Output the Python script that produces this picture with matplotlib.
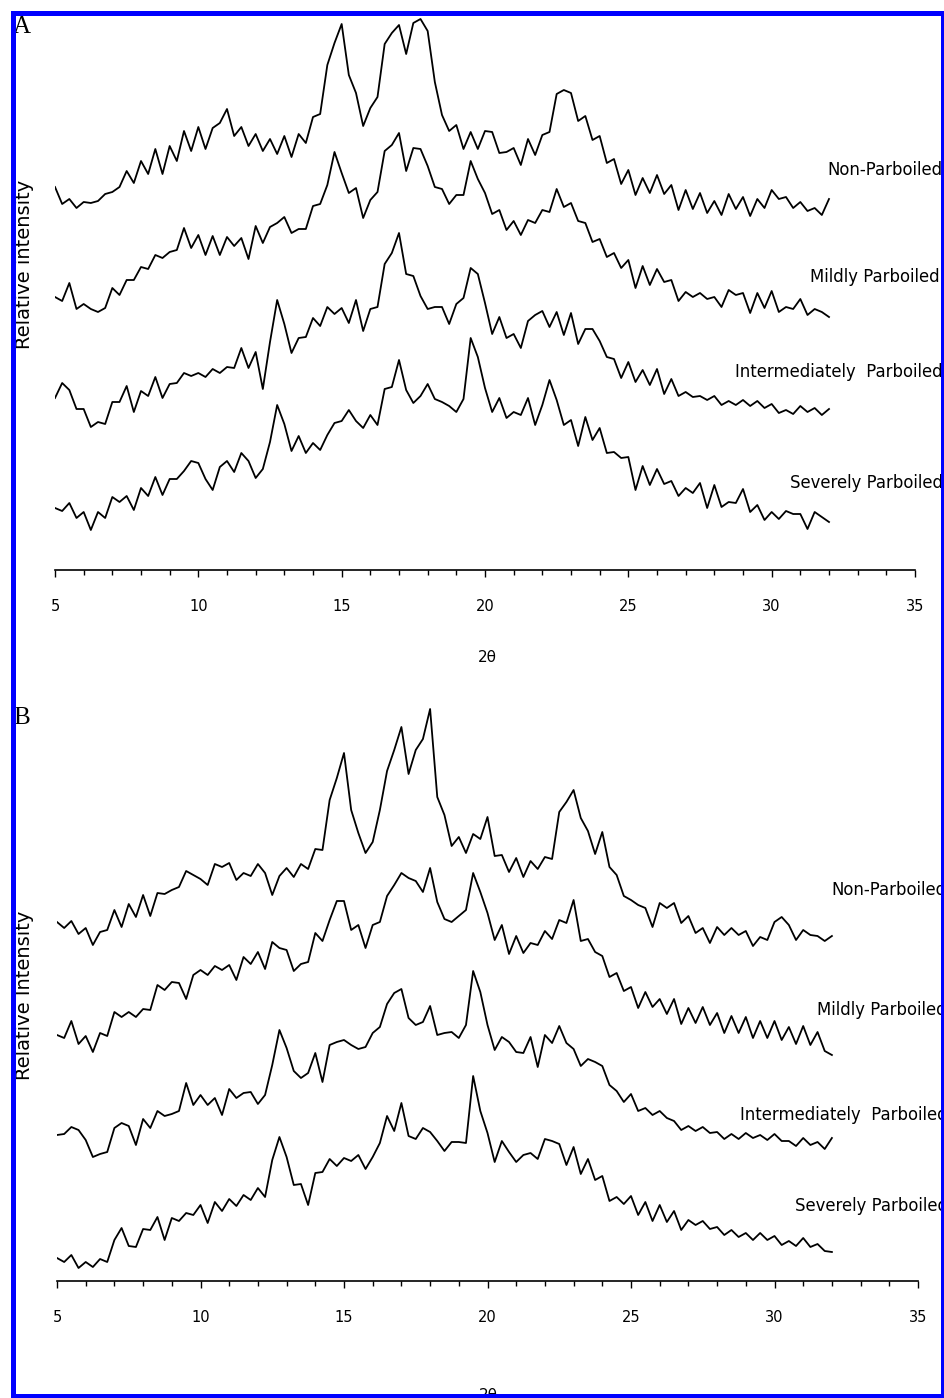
import matplotlib
matplotlib.use("Agg")
import matplotlib.pyplot as plt
from matplotlib.patches import Rectangle
from matplotlib.ticker import MultipleLocator

# 2-theta sampling (deg) shared by all traces
two_theta = [5.0, 5.25, 5.5, 5.75, 6.0, 6.25, 6.5, 6.75, 7.0, 7.25, 7.5, 7.75,
             8.0, 8.25, 8.5, 8.75, 9.0, 9.25, 9.5, 9.75, 10.0, 10.25, 10.5, 10.75,
             11.0, 11.25, 11.5, 11.75, 12.0, 12.25, 12.5, 12.75, 13.0, 13.25, 13.5, 13.75,
             14.0, 14.25, 14.5, 14.75, 15.0, 15.25, 15.5, 15.75, 16.0, 16.25, 16.5, 16.75,
             17.0, 17.25, 17.5, 17.75, 18.0, 18.25, 18.5, 18.75, 19.0, 19.25, 19.5, 19.75,
             20.0, 20.25, 20.5, 20.75, 21.0, 21.25, 21.5, 21.75, 22.0, 22.25, 22.5, 22.75,
             23.0, 23.25, 23.5, 23.75, 24.0, 24.25, 24.5, 24.75, 25.0, 25.25, 25.5, 25.75,
             26.0, 26.25, 26.5, 26.75, 27.0, 27.25, 27.5, 27.75, 28.0, 28.25, 28.5, 28.75,
             29.0, 29.25, 29.5, 29.75, 30.0, 30.25, 30.5, 30.75, 31.0, 31.25, 31.5, 31.75,
             32.0]

labels = ["Non-Parboiled", "Mildly Parboiled", "Intermediately  Parboiled", "Severely Parboiled"]

# Panel A (stacked relative intensity, arbitrary units)
a_non = [383, 366, 371, 362, 368, 367, 369, 376, 378, 383, 399, 387,
         409, 396, 421, 396, 424, 409, 439, 419, 443, 421, 442, 447,
         461, 434, 443, 424, 436, 419, 431, 416, 434, 413, 436, 427,
         453, 456, 505, 527, 546, 495, 477, 444, 462, 473, 526, 537,
         545, 516, 547, 551, 539, 488, 455, 439, 445, 421, 438, 421,
         439, 438, 417, 418, 422, 405, 431, 415, 435, 438, 476, 480,
         477, 449, 454, 430, 434, 407, 411, 386, 400, 375, 392, 377,
         395, 376, 385, 360, 380, 361, 377, 357, 369, 355, 376, 361,
         373, 354, 371, 362, 380, 371, 373, 362, 368, 359, 362, 355,
         371]
a_mild = [273, 269, 287, 261, 266, 261, 258, 262, 282, 275, 290, 290,
          303, 301, 315, 312, 318, 320, 342, 322, 335, 315, 334, 315,
          333, 324, 332, 311, 344, 327, 343, 347, 353, 337, 341, 341,
          364, 366, 385, 418, 397, 377, 382, 352, 370, 378, 419, 425,
          437, 399, 422, 421, 404, 383, 381, 366, 375, 375, 409, 391,
          377, 356, 360, 340, 349, 335, 350, 347, 360, 358, 381, 363,
          367, 349, 347, 328, 331, 313, 317, 302, 310, 282, 304, 285,
          301, 288, 290, 269, 278, 273, 277, 271, 273, 263, 280, 275,
          277, 257, 277, 262, 279, 258, 263, 261, 271, 255, 261, 258,
          253]
a_inter = [172, 187, 180, 161, 161, 143, 148, 146, 168, 168, 184, 158,
           179, 174, 193, 172, 186, 187, 197, 194, 197, 193, 201, 197,
           203, 202, 222, 202, 218, 181, 228, 270, 246, 217, 232, 233,
           252, 244, 263, 256, 262, 247, 270, 239, 261, 263, 306, 317,
           337, 296, 294, 274, 261, 263, 263, 246, 266, 272, 302, 296,
           267, 236, 253, 232, 236, 222, 249, 255, 259, 243, 258, 235,
           257, 226, 241, 241, 229, 213, 211, 192, 208, 188, 200, 185,
           201, 176, 191, 174, 178, 173, 174, 170, 174, 165, 169, 165,
           170, 164, 169, 162, 166, 157, 160, 156, 164, 158, 162, 155,
           161]
a_severe = [62, 59, 67, 52, 58, 40, 58, 52, 73, 68, 74, 60,
            82, 74, 93, 75, 91, 91, 99, 109, 107, 91, 80, 103,
            109, 98, 117, 109, 92, 101, 128, 165, 146, 119, 134, 117,
            127, 120, 135, 147, 149, 160, 149, 142, 155, 145, 181, 183,
            210, 180, 167, 174, 186, 171, 168, 164, 158, 171, 232, 213,
            182, 158, 172, 152, 158, 155, 172, 145, 165, 190, 170, 145,
            150, 124, 153, 130, 142, 117, 118, 112, 113, 80, 104, 85,
            101, 86, 89, 74, 82, 77, 87, 62, 85, 63, 68, 67,
            81, 58, 65, 50, 58, 51, 59, 56, 56, 41, 58, 53,
            48]

# Panel B
b_non = [359, 353, 360, 347, 353, 336, 349, 351, 371, 354, 377, 364,
         386, 365, 388, 387, 391, 394, 410, 406, 402, 396, 417, 414,
         418, 401, 408, 405, 417, 408, 386, 405, 413, 404, 417, 412,
         432, 431, 481, 503, 528, 471, 448, 428, 439, 471, 510, 531,
         554, 507, 531, 542, 572, 484, 466, 435, 444, 428, 447, 442,
         464, 425, 426, 409, 423, 404, 420, 412, 424, 422, 469, 479,
         491, 463, 450, 427, 449, 414, 406, 385, 381, 376, 373, 354,
         378, 373, 378, 358, 365, 348, 353, 338, 354, 346, 353, 346,
         350, 335, 344, 341, 359, 364, 356, 341, 351, 346, 345, 340,
         345]
b_mild = [246, 243, 260, 237, 245, 229, 248, 245, 269, 264, 269, 264,
          272, 271, 296, 291, 299, 298, 282, 306, 311, 306, 315, 311,
          316, 301, 324, 317, 329, 312, 339, 333, 331, 310, 317, 319,
          348, 340, 361, 380, 380, 351, 356, 333, 356, 359, 385, 396,
          408, 403, 400, 389, 413, 379, 362, 359, 365, 371, 408, 389,
          368, 341, 356, 327, 345, 328, 338, 336, 350, 342, 361, 358,
          381, 340, 342, 329, 325, 304, 308, 290, 294, 273, 289, 274,
          282, 267, 282, 257, 273, 258, 274, 256, 268, 248, 265, 248,
          264, 243, 260, 243, 260, 241, 254, 237, 255, 236, 249, 230,
          226]
b_inter = [146, 147, 154, 151, 141, 124, 127, 129, 153, 158, 155, 136,
           162, 153, 170, 165, 167, 170, 198, 176, 186, 176, 183, 166,
           192, 183, 188, 189, 177, 186, 216, 251, 233, 210, 203, 208,
           228, 199, 236, 239, 241, 236, 232, 234, 248, 254, 277, 288,
           292, 263, 256, 259, 275, 246, 248, 249, 243, 256, 310, 289,
           256, 231, 244, 239, 229, 228, 244, 214, 246, 238, 255, 238,
           232, 215, 222, 219, 215, 196, 190, 179, 187, 170, 173, 166,
           170, 163, 160, 151, 155, 150, 154, 148, 149, 142, 147, 142,
           148, 143, 146, 141, 147, 140, 140, 135, 143, 136, 139, 132,
           143]
b_severe = [23, 19, 26, 13, 19, 14, 22, 19, 41, 53, 35, 34,
            52, 51, 64, 41, 63, 60, 68, 66, 76, 58, 79, 70,
            82, 75, 86, 81, 93, 84, 121, 144, 124, 96, 97, 76,
            108, 109, 122, 115, 123, 120, 126, 112, 124, 138, 165, 150,
            178, 145, 142, 153, 149, 140, 130, 139, 139, 138, 205, 170,
            148, 119, 140, 129, 119, 126, 128, 122, 142, 140, 137, 116,
            134, 107, 122, 101, 105, 80, 84, 77, 85, 66, 79, 60,
            76, 59, 70, 51, 61, 56, 60, 52, 54, 46, 51, 44,
            48, 41, 48, 41, 45, 36, 40, 35, 43, 34, 37, 30,
            29]

W, H = 944, 1398
fig = plt.figure(figsize=(W / 100, H / 100), dpi=100)


def add_px_axes(left, right, top, bottom):
    return fig.add_axes([left / W, 1 - bottom / H, (right - left) / W, (bottom - top) / H])


def style(ax, ytop):
    ax.set_xlim(5, 35)
    ax.set_ylim(0, ytop)
    for s in ["left", "right", "top"]:
        ax.spines[s].set_visible(False)
    ax.spines["bottom"].set_linewidth(1.2)
    ax.set_yticks([])
    ax.xaxis.set_major_locator(MultipleLocator(5))
    ax.xaxis.set_minor_locator(MultipleLocator(1))
    ax.tick_params(axis="x", which="major", length=5, width=1, pad=16, labelsize=10.5)
    ax.tick_params(axis="x", which="minor", length=3.5, width=1)
    ax.patch.set_visible(False)


# panel A
axA = add_px_axes(55, 915, 12, 570)
for tr in [a_non, a_mild, a_inter, a_severe]:
    axA.plot(two_theta, tr, color="black", lw=1.3)
style(axA, 558)
lab_x_a = [31.93, 31.33, 28.72, 30.64]
lab_y_a = [400, 293, 198, 87]
for lx, ly, lb in zip(lab_x_a, lab_y_a, labels):
    axA.text(lx, ly, lb, ha="left", va="center", fontsize=11.9, clip_on=False)

# panel B
axB = add_px_axes(57, 918, 700, 1281)
for tr in [b_non, b_mild, b_inter, b_severe]:
    axB.plot(two_theta, tr, color="black", lw=1.3)
style(axB, 581)
lab_x_b = [31.97, 31.48, 28.8, 30.71]
lab_y_b = [391, 271, 166, 75]
for lx, ly, lb in zip(lab_x_b, lab_y_b, labels):
    axB.text(lx, ly, lb, ha="left", va="center", fontsize=11.9, clip_on=False)

# axis titles and panel letters
fig.text(25 / W, 1 - 264 / H, "Relative intensity", rotation=90, ha="center", va="center", fontsize=14)
fig.text(25 / W, 1 - 995 / H, "Relative Intensity", rotation=90, ha="center", va="center", fontsize=14)
fig.text(487 / W, 1 - 657 / H, "2θ", ha="center", va="center", fontsize=11)
fig.text(488 / W, 1 - 1396 / H, "2θ", ha="center", va="center", fontsize=11)
fig.text(13 / W, 1 - 16 / H, "A", ha="left", va="top", fontsize=18, family="Liberation Serif")
fig.text(13 / W, 1 - 707 / H, "B", ha="left", va="top", fontsize=18, family="Liberation Serif")

# blue frame around the figure
fig.add_artist(Rectangle((12.5 / W, 1 - 1396 / H), (943 - 12.5) / W, (1396 - 12.5) / H,
                         transform=fig.transFigure, fill=False, edgecolor="#0000ff",
                         lw=3.6, zorder=10))

fig.savefig("out.png", dpi=100)
